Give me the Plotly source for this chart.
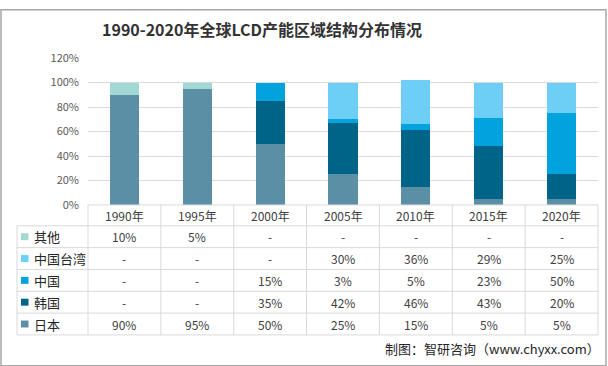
import plotly.graph_objects as go

# Measured on test renders: the photographed page maps figure pixel y to
# roughly 3.5 + 0.965*y. Positions below are reference pixels, converted back.
W, H_REF, H_FIG = 608, 366, 376
OFF, K = 3.5, 0.965

years = ["1990年", "1995年", "2000年", "2005年", "2010年", "2015年", "2020年"]
series_names = ["日本", "韩国", "中国", "中国台湾", "其他"]
japan = [90, 95, 50, 25, 15, 5, 5]
korea = [None, None, 35, 42, 46, 43, 20]
china = [None, None, 15, 3, 5, 23, 50]
taiwan = [None, None, None, 30, 36, 29, 25]
other = [10, 5, None, None, None, None, None]
y_ticks = [0, 20, 40, 60, 80, 100, 120]

colors = {"日本": "#5B8FA6", "韩国": "#006488", "中国": "#00A3DD",
          "中国台湾": "#6DCFF6", "其他": "#A3D9D5"}
data = {"日本": japan, "韩国": korea, "中国": china, "中国台湾": taiwan, "其他": other}

FONT = "Noto Sans CJK SC"

def px(x):
    return x / W

def py(y):
    yf = max((y - OFF) / K, 0.75)
    return 1 - yf / H_FIG

X0, X1 = 88, 598
Y_TOP, Y_ZERO = 53, 201

fig = go.Figure()
for name in series_names:
    vals = data[name]
    fig.add_trace(go.Bar(
        x=years, y=[(v or 0) / 100 for v in vals], name=name,
        marker=dict(color=colors[name], line=dict(width=0)),
        width=0.4, showlegend=False, hoverinfo="skip"))

shapes = []
annotations = []

header_top, header_bot = 201, 222
row_h = 22
rows_order = ["其他", "中国台湾", "中国", "韩国", "日本"]
table_left = 17
table_bot = header_bot + row_h * len(rows_order)
col_w = (X1 - X0) / len(years)
grid_c = "#D9D9D9"

shapes.append(dict(type="line", xref="paper", yref="paper", x0=px(X0), x1=px(X1),
                   y0=py(header_top), y1=py(header_top), line=dict(color=grid_c, width=1)))
for i in range(len(rows_order) + 1):
    yy = header_bot + i * row_h
    shapes.append(dict(type="line", xref="paper", yref="paper", x0=px(table_left), x1=px(X1),
                       y0=py(yy), y1=py(yy), line=dict(color=grid_c, width=1)))
shapes.append(dict(type="line", xref="paper", yref="paper", x0=px(table_left), x1=px(table_left),
                   y0=py(header_bot), y1=py(table_bot), line=dict(color=grid_c, width=1)))
for j in range(len(years) + 1):
    xx = X0 + j * col_w
    shapes.append(dict(type="line", xref="paper", yref="paper", x0=px(xx), x1=px(xx),
                       y0=py(header_top), y1=py(table_bot), line=dict(color=grid_c, width=1)))

for yr in years:
    annotations.append(dict(x=yr, xref="x", y=py((header_top + header_bot) / 2), yref="paper",
                            text=yr, showarrow=False, xanchor="center", yanchor="middle",
                            font=dict(family=FONT, size=12, color="#404040")))

for i, name in enumerate(rows_order):
    yc = header_bot + i * row_h + row_h / 2
    shapes.append(dict(type="rect", xref="paper", yref="paper",
                       x0=px(21), x1=px(28.5), y0=py(yc - 3.5), y1=py(yc + 3.5),
                       fillcolor=colors[name], line=dict(width=0)))
    annotations.append(dict(x=px(32), xref="paper", y=py(yc), yref="paper", text=name,
                            showarrow=False, xanchor="left", yanchor="middle",
                            font=dict(family=FONT, size=13, color="#262626")))
    for yr, v in zip(years, data[name]):
        annotations.append(dict(x=yr, xref="x", y=py(yc), yref="paper",
                                text=f"{v}%" if v is not None else "-",
                                showarrow=False, xanchor="center", yanchor="middle",
                                font=dict(family=FONT, size=12, color="#404040")))

annotations.append(dict(x=px(262), xref="paper", y=py(24), yref="paper",
                        text="<b>1990-2020年全球LCD产能区域结构分布情况</b>", showarrow=False,
                        xanchor="center", yanchor="middle",
                        font=dict(family=FONT, size=16, color="#333333")))
annotations.append(dict(x=px(602), xref="paper", y=py(346), yref="paper",
                        text="制图：智研咨询（www.chyxx.com）", showarrow=False,
                        xanchor="right", yanchor="middle",
                        font=dict(family=FONT, size=13, color="#262626")))

shapes.append(dict(type="rect", xref="paper", yref="paper", x0=px(1), x1=px(606),
                   y0=py(1), y1=py(363), line=dict(color="#A6A6A6", width=1.5)))

fig.update_layout(
    width=W, height=H_FIG, autosize=False, margin=dict(l=0, r=0, t=0, b=0),
    paper_bgcolor="white", plot_bgcolor="white",
    barmode="stack", bargap=0.6,
    shapes=shapes, annotations=annotations,
    xaxis=dict(domain=[px(X0), px(X1)], showticklabels=False, showgrid=False,
               showline=False, ticks="", zeroline=False, range=[-0.5, 6.5]),
    yaxis=dict(domain=[py(Y_ZERO), py(Y_TOP)], range=[0, 1.2],
               tickvals=[t / 100 for t in y_ticks], ticktext=[f"{t}%" for t in y_ticks],
               showgrid=True, gridcolor=grid_c, gridwidth=1, zeroline=False,
               showline=False, ticks="", ticklabelstandoff=8,
               tickfont=dict(family=FONT, size=11, color="#595959")),
)

css_fix = (
    "var s=document.createElement('style');"
    "s.textContent='html,body{margin:0;padding:0;overflow:hidden;}';"
    "document.head.appendChild(s);"
)
fig.write_html("out.html", config={"displayModeBar": False, "staticPlot": True},
               post_script=css_fix)
